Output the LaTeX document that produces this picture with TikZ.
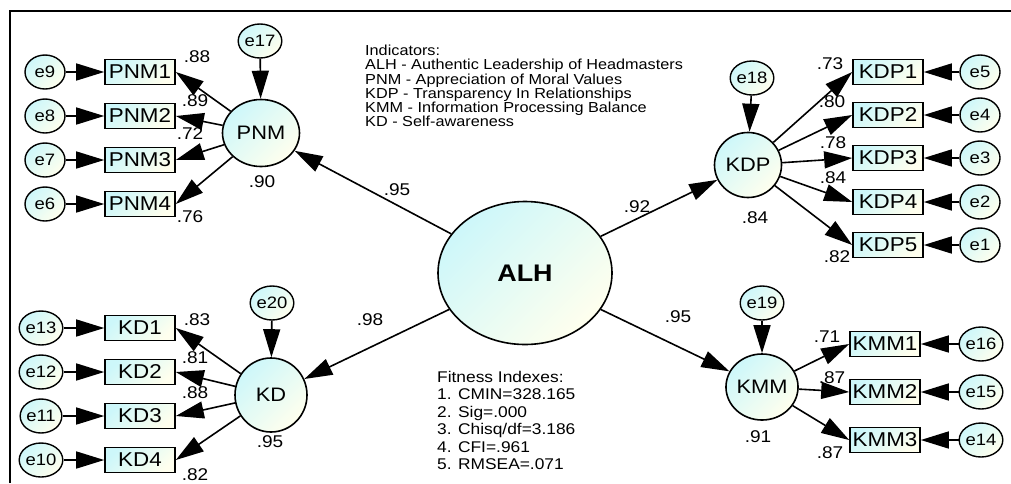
\documentclass[tikz,border=0pt]{standalone}
\usepackage{fontspec}
\setmainfont{Liberation Sans}
\newfontfamily\amosfont[FakeStretch=1.12]{Liberation Sans}
\usepackage{tikz}
\usetikzlibrary{shapes.geometric,arrows.meta}
\definecolor{semcyan}{RGB}{205,247,250}
\definecolor{semivory}{RGB}{255,255,238}

\begin{document}
\begin{tikzpicture}[x=1pt,y=-1pt,
	shade/.style={top color=semcyan,bottom color=semivory,shading angle=45},
	latent/.style={ellipse,draw,line width=1.6pt,inner sep=0pt,shade,font=\amosfont\fontsize{19.5}{22}\selectfont},
	err/.style={ellipse,draw,line width=1.4pt,inner sep=0pt,minimum width=40pt,minimum height=34pt,shade,font=\amosfont\fontsize{16.5}{18}\selectfont},
	obs/.style={rectangle,draw,line width=1.6pt,inner sep=0pt,minimum width=70pt,minimum height=25pt,shade,font=\amosfont\fontsize{20}{22}\selectfont},
	coef/.style={inner sep=0pt,font=\amosfont\fontsize{17}{18}\selectfont},
	note/.style={anchor=north west,align=left,inner sep=0pt},
	arr/.style={line width=1.6pt,-{Triangle[length=28pt,width=17pt]}}]
	\useasboundingbox (0,0) rectangle (1011,483);
	\draw[line width=1.2pt] (10,483) -- (10,11) -- (1011,11);

	\node[latent,minimum width=174pt,minimum height=143pt,font=\amosfont\fontsize{24}{26}\selectfont\bfseries] (ALH) at (525,273) {ALH};
	\node[latent,minimum width=77pt,minimum height=67pt] (PNM) at (261,133) {PNM};
	\node[latent,minimum width=67pt,minimum height=65pt] (KDP) at (748,165) {KDP};
	\node[latent,minimum width=72pt,minimum height=74pt] (KD) at (271,395) {KD};
	\node[latent,minimum width=70pt,minimum height=66pt] (KMM) at (762,387) {KMM};

	\node[obs] (PNM1) at (140,72) {PNM1};
	\node[obs] (PNM2) at (140,116) {PNM2};
	\node[obs] (PNM3) at (140,160) {PNM3};
	\node[obs] (PNM4) at (140,204) {PNM4};
	\node[obs] (KDP1) at (888,72) {KDP1};
	\node[obs] (KDP2) at (888,115) {KDP2};
	\node[obs] (KDP3) at (888,158) {KDP3};
	\node[obs] (KDP4) at (888,202) {KDP4};
	\node[obs] (KDP5) at (888,245) {KDP5};
	\node[obs] (KD1) at (140,328) {KD1};
	\node[obs] (KD2) at (140,372) {KD2};
	\node[obs] (KD3) at (140,416) {KD3};
	\node[obs] (KD4) at (140,460) {KD4};
	\node[obs] (KMM1) at (885,344) {KMM1};
	\node[obs] (KMM2) at (885,392) {KMM2};
	\node[obs] (KMM3) at (885,440) {KMM3};

	\node[err] (e9) at (45,72) {e9};
	\node[err] (e8) at (45,116) {e8};
	\node[err] (e7) at (45,160) {e7};
	\node[err] (e6) at (45,204) {e6};
	\node[err] (e17) at (260,41) {e17};
	\node[err] (e5) at (980,72) {e5};
	\node[err] (e4) at (980,115) {e4};
	\node[err] (e3) at (980,158) {e3};
	\node[err] (e2) at (980,202) {e2};
	\node[err] (e1) at (980,245) {e1};
	\node[err] (e18) at (752,78) {e18};
	\node[err] (e13) at (41,328) {e13};
	\node[err] (e12) at (41,372) {e12};
	\node[err] (e11) at (41,416) {e11};
	\node[err] (e10) at (41,460) {e10};
	\node[err] (e20) at (272,303) {e20};
	\node[err] (e16) at (981,344) {e16};
	\node[err] (e15) at (981,392) {e15};
	\node[err] (e14) at (981,440) {e14};
	\node[err] (e19) at (762,303) {e19};

	\path[arr]
	(ALH) edge (PNM)
	(ALH) edge (KDP)
	(ALH) edge (KD)
	(ALH) edge (KMM);
	\path[arr]
	(PNM) edge (PNM1.east)
	(PNM) edge (PNM2.east)
	(PNM) edge (PNM3.east)
	(PNM) edge (PNM4.east)
	(e9) edge (PNM1)
	(e8) edge (PNM2)
	(e7) edge (PNM3)
	(e6) edge (PNM4)
	(e17) edge (PNM);
	\path[arr]
	(KDP) edge (KDP1.west)
	(KDP) edge (KDP2.west)
	(KDP) edge (KDP3.west)
	(KDP) edge (KDP4.west)
	(KDP) edge (KDP5.west)
	(e5) edge (KDP1)
	(e4) edge (KDP2)
	(e3) edge (KDP3)
	(e2) edge (KDP4)
	(e1) edge (KDP5)
	(e18) edge (KDP);
	\path[arr]
	(KD) edge (KD1.east)
	(KD) edge (KD2.east)
	(KD) edge (KD3.east)
	(KD) edge (KD4.east)
	(e13) edge (KD1)
	(e12) edge (KD2)
	(e11) edge (KD3)
	(e10) edge (KD4)
	(e20) edge (KD);
	\path[arr]
	(KMM) edge (KMM1.west)
	(KMM) edge (KMM2.west)
	(KMM) edge (KMM3.west)
	(e16) edge (KMM1)
	(e15) edge (KMM2)
	(e14) edge (KMM3)
	(e19) edge (KMM);

	\node[coef] (c-PNM) at (397,190) {.95};
	\node[coef] (c-KDP) at (637,207) {.92};
	\node[coef] (c-KD) at (370,320) {.98};
	\node[coef] (c-KMM) at (678,317) {.95};
	\node[coef] (r-PNM1) at (197,57) {.88};
	\node[coef] (r-PNM2) at (195,101) {.89};
	\node[coef] (r-PNM3) at (190,134) {.72};
	\node[coef] (r-PNM4) at (190,217) {.76};
	\node[coef] (r-PNM) at (262,182) {.90};
	\node[coef] (r-KDP1) at (830,64) {.73};
	\node[coef] (r-KDP2) at (832,102) {.80};
	\node[coef] (r-KDP3) at (833,143) {.78};
	\node[coef] (r-KDP4) at (833,178) {.84};
	\node[coef] (r-KDP5) at (837,257) {.82};
	\node[coef] (r-KDP) at (755,218) {.84};
	\node[coef] (r-KD1) at (197,320) {.83};
	\node[coef] (r-KD2) at (195,358) {.81};
	\node[coef] (r-KD3) at (195,393) {.88};
	\node[coef] (r-KD4) at (195,475) {.82};
	\node[coef] (r-KD) at (270,442) {.95};
	\node[coef] (r-KMM1) at (827,337) {.71};
	\node[coef] (r-KMM2) at (832,378) {.87};
	\node[coef] (r-KMM3) at (830,453) {.87};
	\node[coef] (r-KMM) at (758,437) {.91};

	\node[note,font=\amosfont\fontsize{14.5}{14.2}\selectfont] (indicators) at (365,45) {Indicators:\\
		ALH - Authentic Leadership of Headmasters\\
		PNM - Appreciation of Moral Values\\
		KDP - Transparency In Relationships\\
		KMM - Information Processing Balance\\
		KD - Self-awareness};
	\node[note,font=\amosfont\fontsize{15.5}{17.4}\selectfont] (fitness) at (437,371) {Fitness Indexes:\\
		1. CMIN=328.165\\
		2. Sig=.000\\
		3. Chisq/df=3.186\\
		4. CFI=.961\\
		5. RMSEA=.071};
\end{tikzpicture}
\end{document}
